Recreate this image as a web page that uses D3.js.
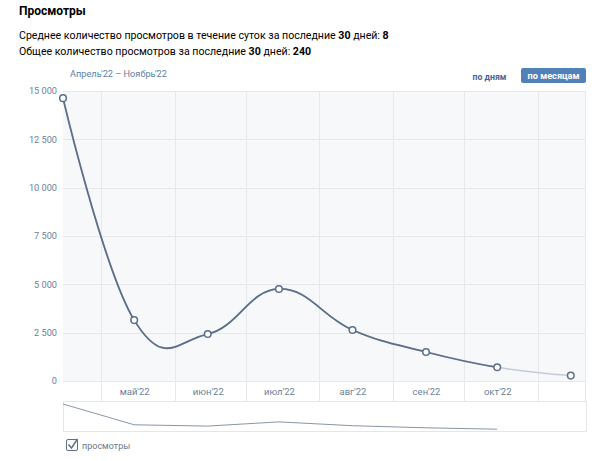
<!DOCTYPE html>
<html>
<head>
<meta charset="utf-8">
<script src="https://cdn.jsdelivr.net/npm/d3@7"></script>
<style>
  body { margin: 0; background: #fff; }
  svg { display: block; font-family: "Roboto", sans-serif; }
</style>
</head>
<body>
<svg id="chart" width="604" height="461"></svg>
<script>
// data
const months = ["2022-04-15", "2022-05-15", "2022-06-15", "2022-07-15", "2022-08-15", "2022-09-15", "2022-10-15", "2022-11-15"];
const views = [14630, 3150, 2430, 4760, 2640, 1500, 710, 280];
const monthStarts = ["2022-05-01", "2022-06-01", "2022-07-01", "2022-08-01", "2022-09-01", "2022-10-01", "2022-11-01"];
const xTickLabels = ["май'22", "июн'22", "июл'22", "авг'22", "сен'22", "окт'22"];
const yTicks = [0, 2500, 5000, 7500, 10000, 12500, 15000];

const parse = d3.utcParse("%Y-%m-%d");
const points = months.map((m, i) => ({ date: parse(m), value: views[i] }));

// layout
const plotLeft = 63, plotRight = 585, plotTop = 91, plotBottom = 381;
const navTop = 401, navBottom = 431;

const svg = d3.select("#chart");

const fmt = d3.formatLocale({ decimal: ",", thousands: "\u00a0", grouping: [3], currency: ["", ""] }).format(",d");

var x = d3.scaleUtc().domain([parse("2022-04-15"), parse("2022-11-21")]).range([plotLeft, plotRight]);
var y = d3.scaleLinear().domain([0, 15000]).range([plotBottom, plotTop]);

// header texts
svg.append("text").attr("x", 19).attr("y", 15)
  .attr("font-size", 12).attr("font-weight", 700).attr("fill", "#000")
  .text("Просмотры");

const l1 = svg.append("text").attr("x", 19).attr("y", 38.5).attr("font-size", 10.6).attr("fill", "#000");
l1.append("tspan").text("Среднее количество просмотров в течение суток за последние ");
l1.append("tspan").attr("font-weight", 700).text("30");
l1.append("tspan").text(" дней: ");
l1.append("tspan").attr("font-weight", 700).text("8");

const l2 = svg.append("text").attr("x", 19).attr("y", 55).attr("font-size", 10.6).attr("fill", "#000");
l2.append("tspan").text("Общее количество просмотров за последние ");
l2.append("tspan").attr("font-weight", 700).text("30");
l2.append("tspan").text(" дней: ");
l2.append("tspan").attr("font-weight", 700).text("240");

svg.append("text").attr("x", 70).attr("y", 77).attr("font-size", 9.2).attr("fill", "#5b7fa6")
  .text("Апрель'22 – Ноябрь'22");

// period buttons
svg.append("text").attr("x", 489.5).attr("y", 79.5).attr("text-anchor", "middle")
  .attr("font-size", 8.7).attr("font-weight", 700).attr("fill", "#45678f").text("по дням");
svg.append("rect").attr("x", 521).attr("y", 68).attr("width", 65).attr("height", 15)
  .attr("rx", 2).attr("fill", "#5181b8");
svg.append("text").attr("x", 553.5).attr("y", 79).attr("text-anchor", "middle")
  .attr("font-size", 9.2).attr("font-weight", 700).attr("fill", "#fff").text("по месяцам");

// plot background
svg.append("rect").attr("x", plotLeft).attr("y", plotTop).attr("width", plotRight - plotLeft).attr("height", plotBottom - plotTop)
  .attr("fill", "#f7f8fa");
svg.append("rect").attr("x", plotLeft).attr("y", plotBottom).attr("width", plotRight - plotLeft).attr("height", navTop - plotBottom)
  .attr("fill", "#fff");

// horizontal grid
svg.append("g").selectAll("line").data(yTicks).join("line")
  .attr("x1", plotLeft).attr("x2", plotRight)
  .attr("y1", d => Math.round(y(d)) + 0.5).attr("y2", d => Math.round(y(d)) + 0.5)
  .attr("stroke", "#e7e8ec");

// vertical grid (month boundaries), down through the label row
svg.append("g").selectAll("line").data(monthStarts.map(parse)).join("line")
  .attr("x1", d => Math.round(x(d)) + 0.5).attr("x2", d => Math.round(x(d)) + 0.5)
  .attr("y1", plotTop).attr("y2", navTop)
  .attr("stroke", "#e7e8ec");
svg.append("line").attr("x1", plotRight + 0.5).attr("x2", plotRight + 0.5).attr("y1", plotTop).attr("y2", navTop)
  .attr("stroke", "#e7e8ec");

// y axis
const yAxis = d3.axisLeft(y).tickValues(yTicks).tickFormat(fmt).tickSize(0).tickPadding(6);
const gy = svg.append("g").attr("transform", `translate(${plotLeft},0)`).call(yAxis);
gy.select(".domain").remove();
gy.selectAll("text").attr("font-size", 9.2).attr("fill", "#6a7f99").attr("font-family", "Roboto, sans-serif");

// x axis labels at mid-month
const xAxis = d3.axisBottom(x).tickValues(points.slice(1, 7).map(d => d.date))
  .tickFormat((d, i) => xTickLabels[i]).tickSize(0).tickPadding(7);
const gx = svg.append("g").attr("transform", `translate(0,${plotBottom})`).call(xAxis);
gx.select(".domain").remove();
gx.selectAll("text").attr("font-size", 9.5).attr("fill", "#6a7f99").attr("font-family", "Roboto, sans-serif");

// spline
const line = d3.line().x(d => x(d.date)).y(d => y(d.value)).curve(d3.curveCardinal.tension(-0.25));
svg.append("defs").append("clipPath").attr("id", "done")
  .append("rect").attr("x", 0).attr("y", 0).attr("width", x(points[6].date)).attr("height", 461);

svg.append("path").datum(points).attr("d", line)
  .attr("fill", "none").attr("stroke", "#c3ccd8").attr("stroke-width", 1.5);
svg.append("path").datum(points).attr("d", line).attr("clip-path", "url(#done)")
  .attr("fill", "none").attr("stroke", "#5b6f8a").attr("stroke-width", 1.8);

svg.append("g").selectAll("circle").data(points).join("circle")
  .attr("cx", d => x(d.date)).attr("cy", d => y(d.value)).attr("r", 3.3)
  .attr("fill", "#fff").attr("stroke", "#5b6f8a").attr("stroke-width", 1.5);

// navigator
svg.append("rect").attr("x", plotLeft + 0.5).attr("y", navTop + 0.5).attr("width", plotRight - plotLeft + 1).attr("height", navBottom - navTop)
  .attr("fill", "#fff").attr("stroke", "#e4e6ea");
var yNav = d3.scaleLinear().domain([0, d3.max(views)]).range([navBottom - 0.5, navTop + 3]);
svg.append("path").datum(points.slice(0, 7))
  .attr("d", d3.line().x(d => x(d.date)).y(d => yNav(d.value)))
  .attr("fill", "none").attr("stroke", "#8796a8").attr("stroke-width", 1);

// legend
svg.append("rect").attr("x", 66.5).attr("y", 439.5).attr("width", 11).attr("height", 11)
  .attr("rx", 1.5).attr("fill", "#fff").attr("stroke", "#5b6f8a").attr("stroke-width", 1);
svg.append("path").attr("d", "M68.5,444.5 L71.5,448 L77.5,439")
  .attr("fill", "none").attr("stroke", "#5b6f8a").attr("stroke-width", 1.4);
svg.append("text").attr("x", 82).attr("y", 449).attr("font-size", 9).attr("fill", "#6b7a8d")
  .text("просмотры");
</script>
</body>
</html>
